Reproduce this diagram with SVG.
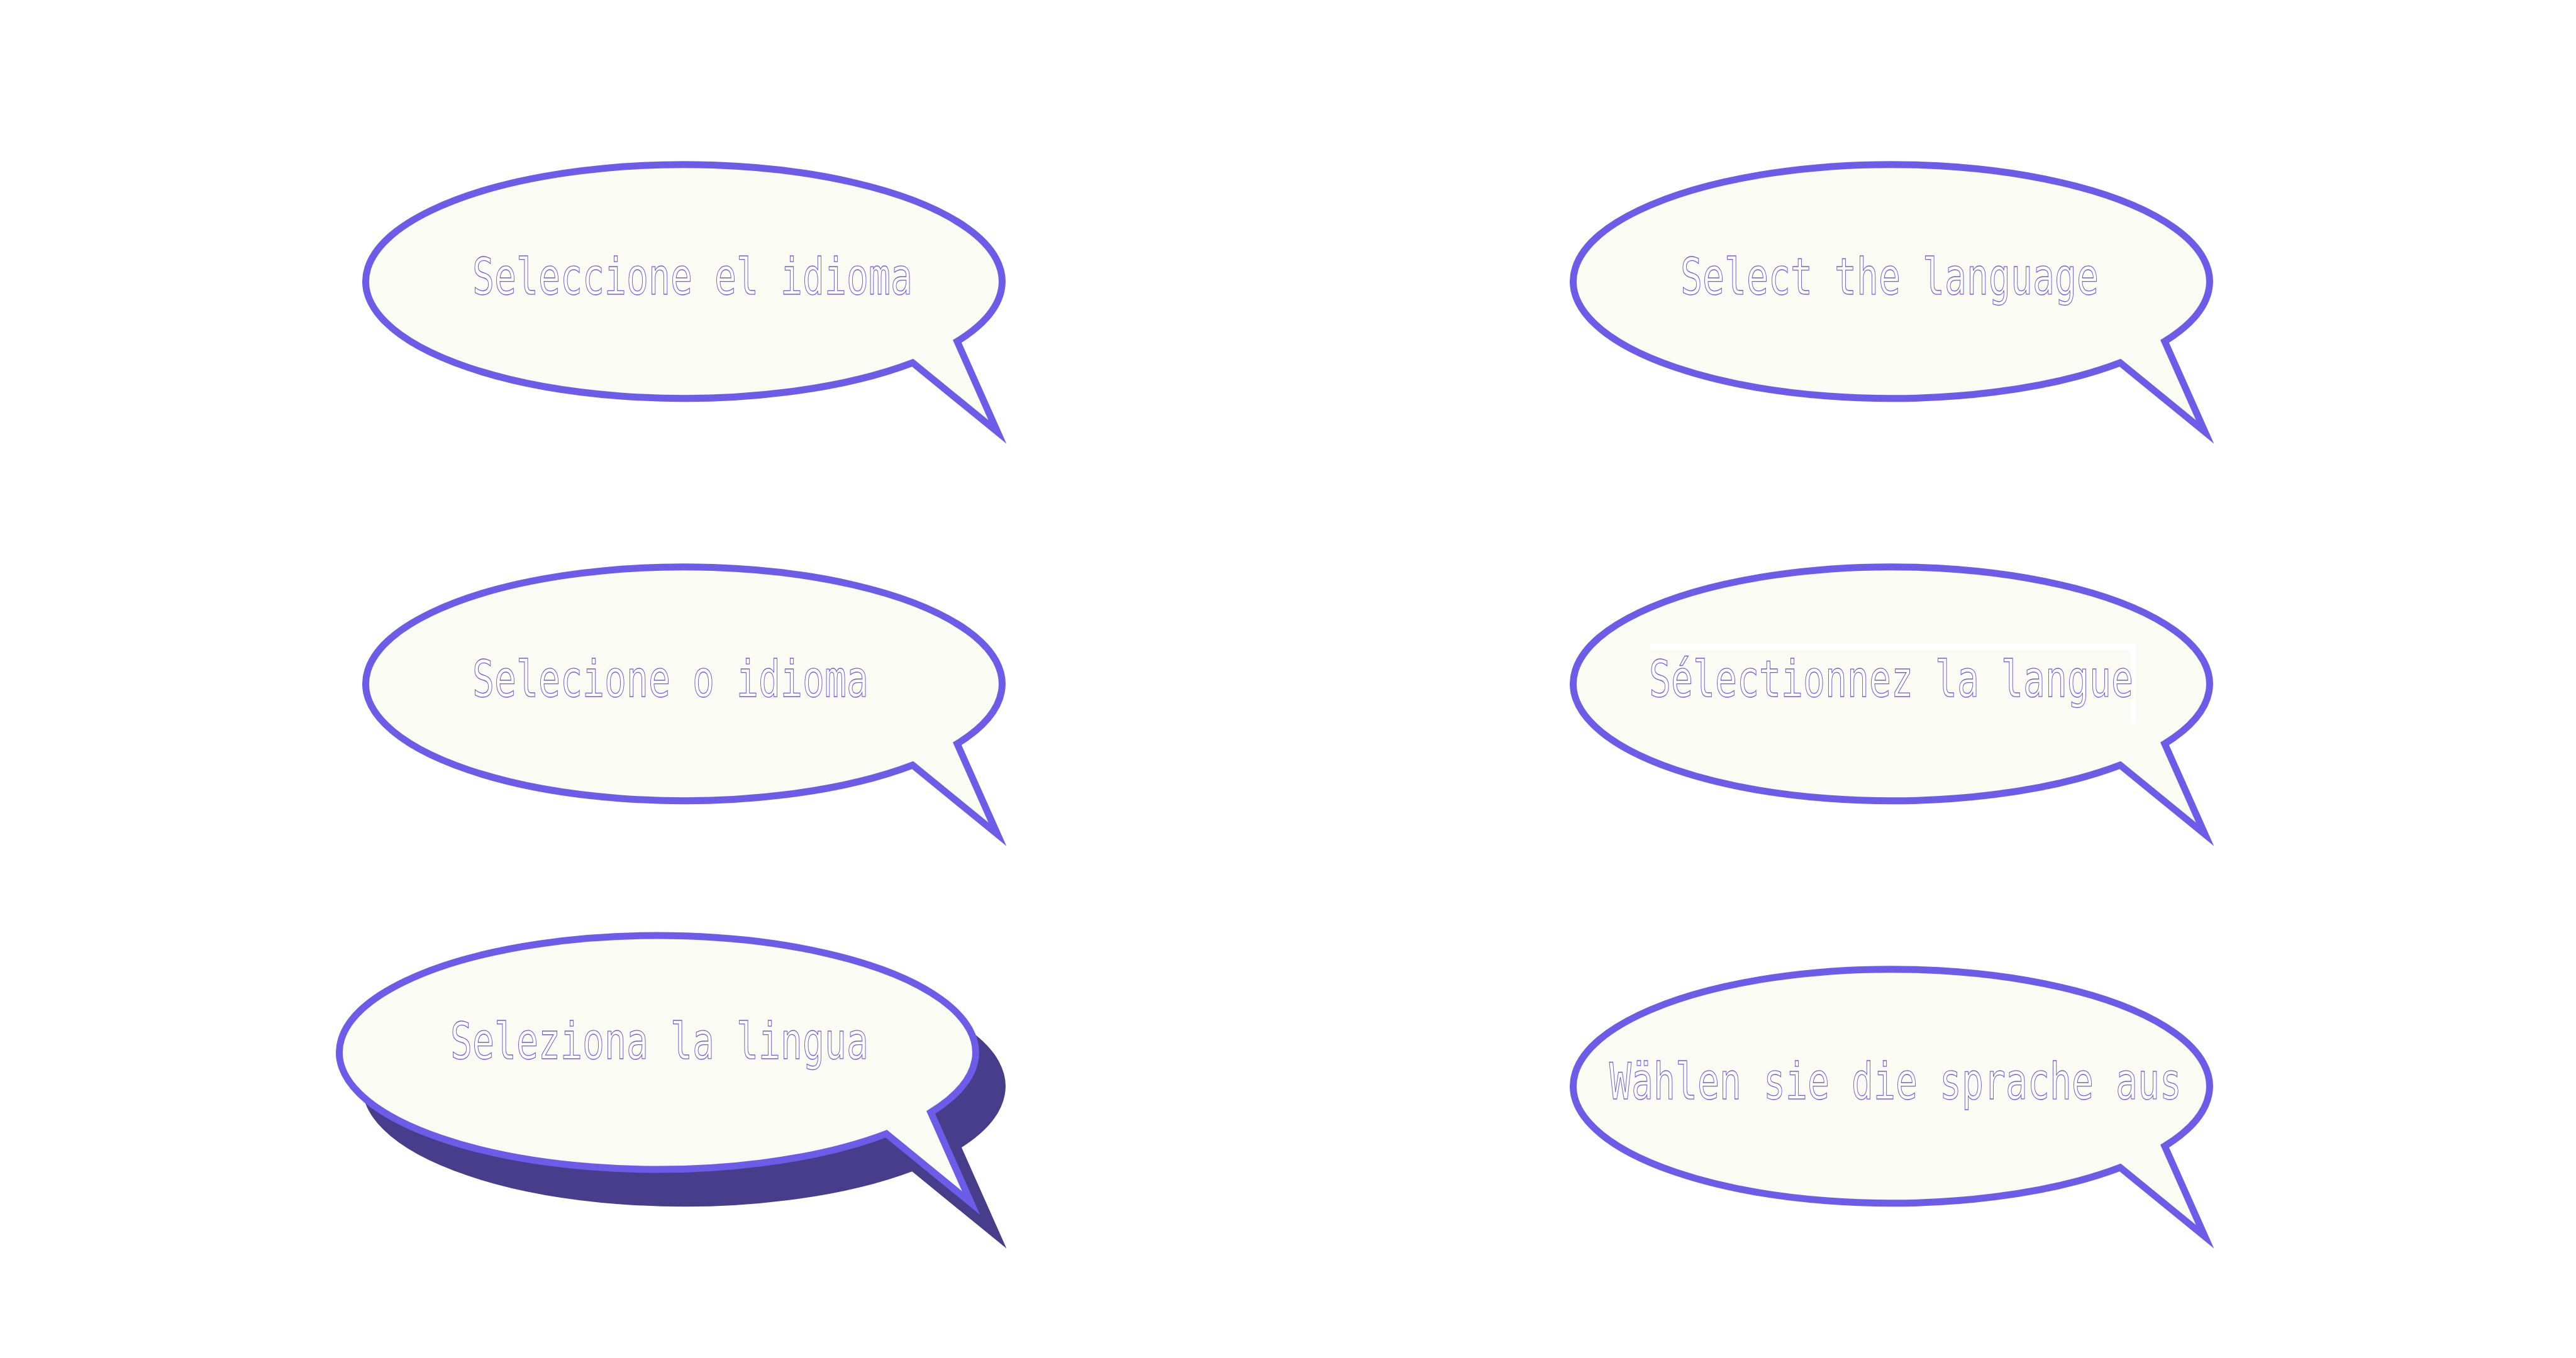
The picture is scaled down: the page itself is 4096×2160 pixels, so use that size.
<svg xmlns="http://www.w3.org/2000/svg" xmlns:xlink="http://www.w3.org/1999/xlink" width="4096" height="2160" viewBox="0 0 4096 2160">
<style>
.bub{fill:#fafbf3;stroke:#6c5ce7;stroke-width:11;stroke-linejoin:miter;stroke-miterlimit:12}
.shadow{fill:#483d8b;stroke:#483d8b;stroke-width:11;stroke-linejoin:miter;stroke-miterlimit:12}
.lbl{font-family:"DejaVu Sans Mono","Liberation Mono",monospace;font-size:80px;fill:#ffffff;stroke:#6c5ce7;stroke-width:1.3}
.wbox{fill:#ffffff}
</style>
<defs>
<path id="bubble" d="M434.5,95.3 A506,186 0 1 0 363.7,129.3 L498.5,239.3 Z"/>
</defs>
<rect width="4096" height="2160" fill="#ffffff"/>
<g id="node-es">
<use xlink:href="#bubble" class="bub" transform="translate(1087.5,447.7)"/>
<text class="lbl" x="751" y="468.3" textLength="700" lengthAdjust="spacingAndGlyphs">Seleccione el idioma</text>
</g>
<g id="node-en">
<use xlink:href="#bubble" class="bub" transform="translate(3007.5,447.7)"/>
<text class="lbl" x="2672" y="468.3" textLength="665" lengthAdjust="spacingAndGlyphs">Select the language</text>
</g>
<g id="node-pt">
<use xlink:href="#bubble" class="bub" transform="translate(1087.5,1087.7)"/>
<text class="lbl" x="751" y="1108.3" textLength="630" lengthAdjust="spacingAndGlyphs">Selecione o idioma</text>
</g>
<g id="node-fr">
<use xlink:href="#bubble" class="bub" transform="translate(3007.5,1087.7)"/>
<rect class="wbox" x="2624" y="1024" width="772" height="10"/>
<rect class="wbox" x="3388" y="1034" width="8" height="117"/>
<text class="lbl" x="2622" y="1108.3" textLength="770" lengthAdjust="spacingAndGlyphs">Sélectionnez la langue</text>
</g>
<g id="node-it">
<use xlink:href="#bubble" class="shadow" transform="translate(1087.5,1727.7)"/>
<use xlink:href="#bubble" class="bub" transform="translate(1045.5,1674)"/>
<text class="lbl" x="716" y="1684" textLength="665" lengthAdjust="spacingAndGlyphs">Seleziona la lingua</text>
</g>
<g id="node-de">
<use xlink:href="#bubble" class="bub" transform="translate(3007.5,1727.7)"/>
<text class="lbl" x="2559" y="1748.3" textLength="910" lengthAdjust="spacingAndGlyphs">Wählen sie die sprache aus</text>
</g>
<g id="connectors"></g>
</svg>
